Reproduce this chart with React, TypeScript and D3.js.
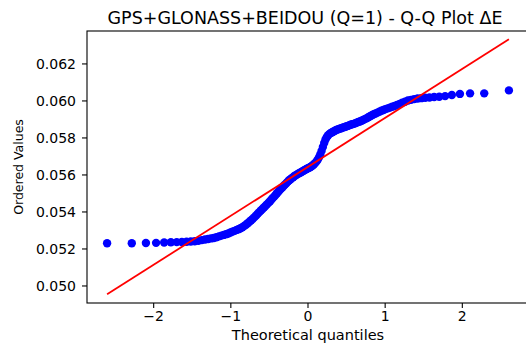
import React from "react";
import * as d3 from "d3";

// Probability plot of easting error ΔE (sorted sample vs. normal quantiles)
const TITLE = "GPS+GLONASS+BEIDOU (Q=1) - Q-Q Plot ΔE";
const X_LABEL = "Theoretical quantiles";
const Y_LABEL = "Ordered Values";

// Sorted sample values (n = 150)
const orderedValues: number[] = [
  0.05231, 0.05231, 0.05232, 0.05233, 0.05235, 0.05236, 0.05237, 0.05238, 0.05239, 0.0524,
  0.05242, 0.05244, 0.05248, 0.05251, 0.05254, 0.05257, 0.05259, 0.05263, 0.05268, 0.05272,
  0.05276, 0.0528, 0.05284, 0.05289, 0.05294, 0.05298, 0.05303, 0.05307, 0.05312, 0.05317,
  0.05324, 0.05331, 0.05339, 0.05347, 0.05355, 0.05363, 0.05372, 0.05381, 0.0539, 0.05399,
  0.05408, 0.05416, 0.05424, 0.05432, 0.05441, 0.05449, 0.05457, 0.05466, 0.05475, 0.05483,
  0.05492, 0.05501, 0.05509, 0.05518, 0.05526, 0.05534, 0.05542, 0.05549, 0.05557, 0.05564,
  0.05571, 0.05577, 0.05583, 0.05588, 0.05594, 0.05598, 0.05603, 0.05607, 0.05611, 0.05615,
  0.05619, 0.05623, 0.05627, 0.05631, 0.05635, 0.05638, 0.05642, 0.05646, 0.05651, 0.05657,
  0.05664, 0.05672, 0.05682, 0.05695, 0.05711, 0.0573, 0.05751, 0.05773, 0.05792, 0.05805,
  0.05815, 0.05822, 0.05827, 0.05831, 0.05835, 0.05839, 0.05843, 0.05846, 0.05849, 0.05851,
  0.05854, 0.05857, 0.05859, 0.05862, 0.05865, 0.05868, 0.05871, 0.05874, 0.05876, 0.05879,
  0.05883, 0.05886, 0.05889, 0.05893, 0.05897, 0.05902, 0.05906, 0.05912, 0.05917, 0.05923,
  0.05928, 0.05932, 0.05937, 0.05942, 0.05947, 0.05951, 0.05956, 0.0596, 0.05964, 0.05969,
  0.05973, 0.05978, 0.05984, 0.0599, 0.05996, 0.06002, 0.06006, 0.0601, 0.06013, 0.06015,
  0.06017, 0.06019, 0.06021, 0.06023, 0.06026, 0.06032, 0.06038, 0.06041, 0.06041, 0.06057,
];

const xTicks: number[] = [-2, -1, 0, 1, 2];
const yTicks: number[] = [0.05, 0.052, 0.054, 0.056, 0.058, 0.06, 0.062];
const yDomain: [number, number] = [0.04908, 0.06378];

// Inverse standard normal CDF (Acklam's rational approximation)
function normPpf(p: number): number {
  const a = [-39.69683028665376, 220.9460984245205, -275.9285104469687, 138.357751867269, -30.66479806614716, 2.506628277459239];
  const b = [-54.47609879822406, 161.5858368580409, -155.6989798598866, 66.80131188771972, -13.28068155288572];
  const c = [-0.007784894002430293, -0.3223964580411365, -2.400758277161838, -2.549732539343734, 4.374664141464968, 2.938163982698783];
  const dd = [0.007784695709041462, 0.3224671290700398, 2.445134137142996, 3.754408661907416];
  const pl = 0.02425;
  if (p < pl) {
    const q = Math.sqrt(-2 * Math.log(p));
    return (((((c[0] * q + c[1]) * q + c[2]) * q + c[3]) * q + c[4]) * q + c[5]) /
      ((((dd[0] * q + dd[1]) * q + dd[2]) * q + dd[3]) * q + 1);
  }
  if (p > 1 - pl) {
    const q = Math.sqrt(-2 * Math.log(1 - p));
    return -(((((c[0] * q + c[1]) * q + c[2]) * q + c[3]) * q + c[4]) * q + c[5]) /
      ((((dd[0] * q + dd[1]) * q + dd[2]) * q + dd[3]) * q + 1);
  }
  const q = p - 0.5;
  const r = q * q;
  return (((((a[0] * r + a[1]) * r + a[2]) * r + a[3]) * r + a[4]) * r + a[5]) * q /
    (((((b[0] * r + b[1]) * r + b[2]) * r + b[3]) * r + b[4]) * r + 1);
}

// Filliben order-statistic medians
function theoreticalQuantiles(n: number): number[] {
  const m: number[] = [];
  for (let i = 1; i <= n; i++) {
    if (i === 1) m.push(1 - Math.pow(0.5, 1 / n));
    else if (i === n) m.push(Math.pow(0.5, 1 / n));
    else m.push((i - 0.3175) / (n + 0.365));
  }
  return m.map(normPpf);
}

const W = 526;
const H = 345;
const left = 87;
const right = 529;
const top = 31;
const bottom = 303;
const FONT = "'DejaVu Sans', sans-serif";

export default function App() {
  const osm = theoreticalQuantiles(orderedValues.length);
  const pts = osm.map((q, i) => ({ q, v: orderedValues[i] }));

  // least-squares fit line
  const mx = d3.mean(osm) as number;
  const my = d3.mean(orderedValues) as number;
  const sxy = d3.sum(pts, (p) => (p.q - mx) * (p.v - my));
  const sxx = d3.sum(pts, (p) => (p.q - mx) ** 2);
  const slope = sxy / sxx;
  const intercept = my - slope * mx;

  const [qMin, qMax] = d3.extent(osm) as [number, number];
  const pad = (qMax - qMin) * 0.05;
  const x = d3.scaleLinear().domain([qMin - pad, qMax + pad]).range([left, right]);
  const y = d3.scaleLinear().domain(yDomain).range([bottom, top]);

  const fitLine = d3.line<number>()
    .x((q) => x(q))
    .y((q) => y(intercept + slope * q));

  const fmtY = d3.format(".3f");
  const fmtX = d3.format("d");

  return (
    <svg width={W} height={H} style={{ position: "absolute", left: 0, top: 0, background: "#fff" }}>
      <rect x={0} y={0} width={W} height={H} fill="#fff" />
      <defs>
        <clipPath id="plotArea">
          <rect x={left} y={top} width={right - left} height={bottom - top} />
        </clipPath>
      </defs>

      <g clipPath="url(#plotArea)">
        {pts.map((p, i) => (
          <circle key={i} cx={x(p.q)} cy={y(p.v)} r={4.2} fill="#0000ff" />
        ))}
        <path d={fitLine([qMin, qMax]) ?? ""} fill="none" stroke="#ff0000" strokeWidth={1.8} />
      </g>

      {/* frame */}
      <rect x={left} y={top} width={right - left} height={bottom - top} fill="none" stroke="#000" strokeWidth={1.1} />

      {/* y axis */}
      {yTicks.map((t) => (
        <g key={"y" + t}>
          <line x1={left - 5} x2={left} y1={y(t)} y2={y(t)} stroke="#000" strokeWidth={1.1} />
          <text x={left - 11} y={y(t)} dy="0.36em" textAnchor="end" fontFamily={FONT} fontSize={14} fill="#000">
            {fmtY(t)}
          </text>
        </g>
      ))}

      {/* x axis */}
      {xTicks.map((t) => (
        <g key={"x" + t}>
          <line x1={x(t)} x2={x(t)} y1={bottom} y2={bottom + 5} stroke="#000" strokeWidth={1.1} />
          <text x={x(t)} y={321} textAnchor="middle" fontFamily={FONT} fontSize={14} fill="#000">
            {fmtX(t)}
          </text>
        </g>
      ))}

      <text x={(left + right) / 2} y={339.5} textAnchor="middle" fontFamily={FONT} fontSize={14.5} fill="#000">
        {X_LABEL}
      </text>
      <text
        transform={`translate(23, ${(top + bottom) / 2}) rotate(-90)`}
        textAnchor="middle"
        fontFamily={FONT}
        fontSize={12.5}
        fill="#000"
      >
        {Y_LABEL}
      </text>
      <text x={305} y={24} textAnchor="middle" fontFamily={FONT} fontSize={17.5} fill="#000">
        {TITLE}
      </text>
    </svg>
  );
}
